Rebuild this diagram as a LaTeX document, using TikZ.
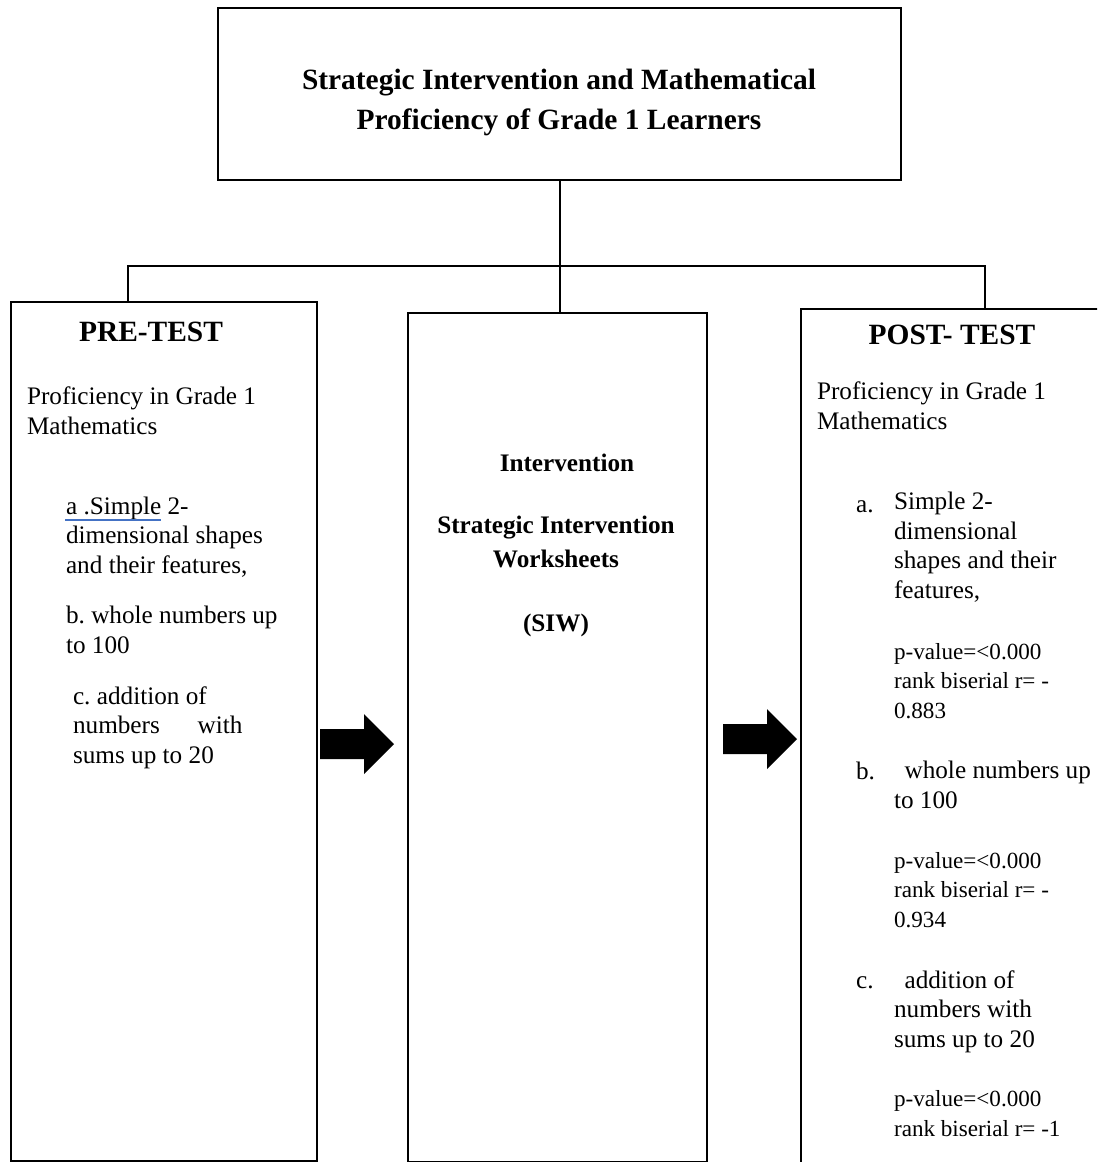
\documentclass[tikz,border=0pt]{standalone}
\usepackage{fontspec}
\setmainfont{Liberation Serif}
\usepackage{tikz}
\usetikzlibrary{positioning}
\newcommand{\px}{0.01673cm}
\definecolor{spellblue}{RGB}{68,114,196}
\frenchspacing

\begin{document}
\begin{tikzpicture}[x=\px, y=-\px, line width=1pt,
  every node/.style={inner sep=0pt, font=\fontsize{12}{14}\selectfont},
  panel/.style={draw, line width=1pt, anchor=north west},
  head/.style={anchor=base, align=center, font=\fontsize{14}{19}\bfseries},
  body/.style={anchor=base west, align=left},
  stat/.style={anchor=base west, align=left, font=\fontsize{11}{14}\selectfont}]
% --- Page frame ---
\useasboundingbox (0,0) rectangle (1097,1162);
\clip (0,0) rectangle (1097,1162);

% --- Boxes ---
\node[panel, minimum width=683*\px, minimum height=172*\px] (title) at (217,7) {};
\node[panel, minimum width=306*\px, minimum height=859*\px] (pre) at (10,301) {};
\node[panel, minimum width=299*\px, minimum height=849*\px] (mid) at (407,312) {};
\node[panel, minimum width=330*\px, minimum height=880*\px] (post) at (800,308) {};

% --- Tree lines ---
\coordinate (jl) at (128,266);
\coordinate (jr) at (985,266);
\draw (title.south) -- (title.south |- mid.north);
\draw (pre.north -| jl) -- (jl) -- (jr) -- (post.north -| jr);

% --- Block arrows ---
\foreach \ax/\ay in {320/744, 723/739}{
  \fill (\ax,\ay-15) -- ++(44,0) -- ++(0,-15) -- ++(30,30) -- ++(-30,30)
    -- ++(0,-15) -- ++(-44,0) -- cycle;
}

% --- Title (nodes sit on the baseline of their last line) ---
\node[head] (titletext) at (559,129) {Strategic Intervention and Mathematical\\Proficiency of Grade 1 Learners};

% --- Pre-test ---
\node[head] (prehead) at (151,341) {PRE-TEST};
\node[body] (pregoal) at (26,434) {Proficiency in Grade 1\\Mathematics};
\node[body] (prea) at (65,573) {a .Simple 2-\\dimensional shapes\\and their features,};
\draw[spellblue, line width=0.8pt] (65,520) -- (161,520);
\node[body] (preb) at (65,653) {b. whole numbers up\\to 100};
\node[body] (prec) at (72,763) {c. addition of\\numbers\hspace{15pt} with\\sums up to 20};

% --- Intervention ---
\node[head, font=\fontsize{12}{16}\bfseries] (midhead) at (567,471) {Intervention};
\node[head, font=\fontsize{12}{16}\bfseries] (midname) at (556,567) {Strategic Intervention\\Worksheets};
\node[head, font=\fontsize{12}{16}\bfseries] (midshort) at (556,631) {(SIW)};

% --- Post-test ---
\node[head] (posthead) at (952,344) {POST- TEST};
\node[body] (postgoal) at (816,429) {Proficiency in Grade 1\\Mathematics};
\foreach \lab/\y in {a./512, b./779, c./988}{
  \node[body] (lab\y) at (855,\y) {\lab};
}
\node[body] (posta) at (893,598) {Simple 2-\\dimensional\\shapes and their\\features,};
\node[stat] (stata) at (893,718) {p-value=<0.000\\rank biserial r= -\\0.883};
\node[body] (postb) at (893,808) {\hspace*{5pt}whole numbers up\\to 100};
\node[stat] (statb) at (893,927) {p-value=<0.000\\rank biserial r= -\\0.934};
\node[body] (postc) at (893,1047) {\hspace*{5pt}addition of\\numbers with\\sums up to 20};
\node[stat] (statc) at (893,1136) {p-value=<0.000\\rank biserial r= -1};
\end{tikzpicture}
\end{document}
